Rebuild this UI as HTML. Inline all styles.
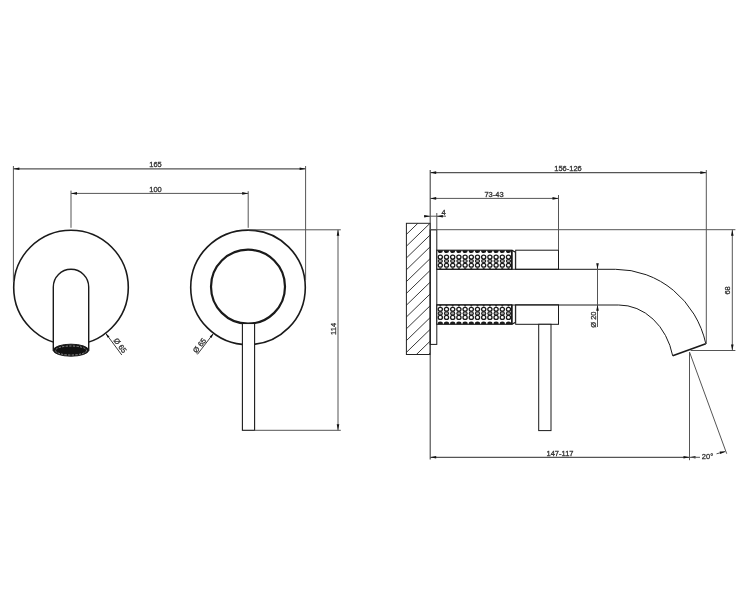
<!DOCTYPE html>
<html><head><meta charset="utf-8"><style>
html,body{margin:0;padding:0;background:#fff;}
svg{display:block;will-change:transform;font-family:"Liberation Sans",sans-serif;}
</style></head><body>
<svg width="750" height="595" viewBox="0 0 750 595">
<circle cx="71" cy="287.5" r="57.3" fill="none" stroke="#1a1a1a" stroke-width="1.6"/>
<path d="M53.3,350 L53.3,287 A17.7,17.7 0 0 1 88.7,287 L88.7,350 Z" fill="#fff" stroke="#1a1a1a" stroke-width="1.4"/>
<ellipse cx="71" cy="350.2" rx="17.7" ry="6" fill="#111" stroke="#1a1a1a" stroke-width="1"/>
<ellipse cx="71" cy="350.5" rx="15.6" ry="4.5" fill="none" stroke="#bbb" stroke-width="0.7" stroke-dasharray="2.2 1.3"/>
<circle cx="248" cy="287.4" r="57.3" fill="none" stroke="#1a1a1a" stroke-width="1.6"/>
<circle cx="248" cy="286.7" r="37" fill="none" stroke="#1a1a1a" stroke-width="2.2"/>
<rect x="242.4" y="323.5" width="12.2" height="106.8" fill="#fff" stroke="#1a1a1a" stroke-width="1.1"/>
<line x1="13.4" y1="166" x2="13.4" y2="282" stroke="#555" stroke-width="1"/>
<line x1="305.6" y1="166" x2="305.6" y2="280" stroke="#555" stroke-width="1"/>
<line x1="13.4" y1="168.8" x2="305.6" y2="168.8" stroke="#555" stroke-width="1.3"/>
<path d="M13.40,168.80 L19.40,167.50 L19.40,170.10Z" fill="#111"/>
<path d="M305.60,168.80 L299.60,170.10 L299.60,167.50Z" fill="#111"/>
<text x="155.5" y="167.2" font-size="7.5" text-anchor="middle" fill="#333" stroke="#333" stroke-width="0.3">165</text>
<line x1="71" y1="190.6" x2="71" y2="227.8" stroke="#555" stroke-width="1"/>
<line x1="248.2" y1="191.2" x2="248.2" y2="227.8" stroke="#555" stroke-width="1"/>
<line x1="71" y1="193.4" x2="248.2" y2="193.4" stroke="#555" stroke-width="1"/>
<path d="M71.00,193.40 L77.00,192.10 L77.00,194.70Z" fill="#111"/>
<path d="M248.20,193.40 L242.20,194.70 L242.20,192.10Z" fill="#111"/>
<text x="155.5" y="192.3" font-size="7.5" text-anchor="middle" fill="#333" stroke="#333" stroke-width="0.3">100</text>
<line x1="248" y1="229.8" x2="340.8" y2="229.8" stroke="#555" stroke-width="1"/>
<line x1="254.6" y1="430.3" x2="340.8" y2="430.3" stroke="#555" stroke-width="1"/>
<line x1="338" y1="229.8" x2="338" y2="430.3" stroke="#555" stroke-width="1"/>
<path d="M338.00,229.80 L339.30,235.80 L336.70,235.80Z" fill="#111"/>
<path d="M338.00,430.30 L336.70,424.30 L339.30,424.30Z" fill="#111"/>
<text x="336.4" y="328.9" font-size="7.5" text-anchor="middle" fill="#333" stroke="#333" stroke-width="0.3" transform="rotate(-90 336.4 328.9)">114</text>
<line x1="105.58757161168526" y1="333.18358446976924" x2="121.8" y2="355" stroke="#222" stroke-width="0.9"/>
<path d="M105.59,333.18 L109.48,336.51 L107.73,337.83Z" fill="#111"/>
<text x="0" y="0" font-size="7.5" fill="#333" stroke="#333" stroke-width="0.3" transform="translate(113.2,340.6) rotate(53.4)">&#216; 65</text>
<line x1="213.62" y1="333.24" x2="197.4" y2="354.4" stroke="#222" stroke-width="0.9"/>
<path d="M213.62,333.24 L211.50,337.90 L209.74,336.58Z" fill="#111"/>
<text x="0" y="0" font-size="7.5" fill="#333" stroke="#333" stroke-width="0.3" transform="translate(196.6,353.6) rotate(-52.5)">&#216; 65</text>
<clipPath id="wc"><rect x="406.4" y="223.3" width="23.8" height="131.2"/></clipPath>
<path d="M400.4,216.62 L446.40,172.00 M400.4,228.42 L446.40,183.80 M400.4,240.22 L446.40,195.60 M400.4,252.02 L446.40,207.40 M400.4,263.82 L446.40,219.20 M400.4,275.62 L446.40,231.00 M400.4,287.42 L446.40,242.80 M400.4,299.22 L446.40,254.60 M400.4,311.02 L446.40,266.40 M400.4,322.82 L446.40,278.20 M400.4,334.62 L446.40,290.00 M400.4,346.42 L446.40,301.80 M400.4,358.22 L446.40,313.60 M400.4,370.02 L446.40,325.40 M400.4,381.82 L446.40,337.20 M400.4,393.62 L446.40,349.00 M400.4,405.42 L446.40,360.80 M400.4,417.22 L446.40,372.60" stroke="#222" stroke-width="0.9" clip-path="url(#wc)"/>
<rect x="406.4" y="223.3" width="23.8" height="131.2" fill="none" stroke="#222" stroke-width="1"/>
<line x1="430.2" y1="170" x2="430.2" y2="459.6" stroke="#444" stroke-width="1.1"/>
<rect x="430.2" y="229.8" width="6.6" height="114.6" fill="none" stroke="#1a1a1a" stroke-width="1"/>
<line x1="436.8" y1="213" x2="436.8" y2="229.8" stroke="#555" stroke-width="1"/>
<line x1="430.2" y1="229.7" x2="735.4" y2="229.7" stroke="#555" stroke-width="1"/>
<clipPath id="kc250"><rect x="436.8" y="250.2" width="75" height="19.100000000000023"/></clipPath>
<rect x="436.8" y="250.2" width="75" height="19.100000000000023" fill="#fff"/>
<g clip-path="url(#kc250)"><ellipse cx="440.30" cy="250.80" rx="2.6" ry="2.3" fill="#1a1a1a"/><ellipse cx="440.30" cy="257.10" rx="2.1" ry="2.0" fill="none" stroke="#1a1a1a" stroke-width="1.3"/><ellipse cx="440.30" cy="261.10" rx="2.1" ry="1.6" fill="#aaa" stroke="#1a1a1a" stroke-width="1.1"/><ellipse cx="440.30" cy="265.20" rx="2.1" ry="1.9" fill="none" stroke="#1a1a1a" stroke-width="1.3"/><ellipse cx="440.30" cy="268.80" rx="1.2" ry="0.8" fill="#333"/><ellipse cx="446.50" cy="250.80" rx="2.6" ry="2.3" fill="#1a1a1a"/><ellipse cx="446.50" cy="257.10" rx="2.1" ry="2.0" fill="none" stroke="#1a1a1a" stroke-width="1.3"/><ellipse cx="446.50" cy="261.10" rx="2.1" ry="1.6" fill="#aaa" stroke="#1a1a1a" stroke-width="1.1"/><ellipse cx="446.50" cy="265.20" rx="2.1" ry="1.9" fill="none" stroke="#1a1a1a" stroke-width="1.3"/><ellipse cx="446.50" cy="268.80" rx="1.2" ry="0.8" fill="#333"/><ellipse cx="452.70" cy="250.80" rx="2.6" ry="2.3" fill="#1a1a1a"/><ellipse cx="452.70" cy="257.10" rx="2.1" ry="2.0" fill="none" stroke="#1a1a1a" stroke-width="1.3"/><ellipse cx="452.70" cy="261.10" rx="2.1" ry="1.6" fill="#aaa" stroke="#1a1a1a" stroke-width="1.1"/><ellipse cx="452.70" cy="265.20" rx="2.1" ry="1.9" fill="none" stroke="#1a1a1a" stroke-width="1.3"/><ellipse cx="452.70" cy="268.80" rx="1.2" ry="0.8" fill="#333"/><ellipse cx="458.90" cy="250.80" rx="2.6" ry="2.3" fill="#1a1a1a"/><ellipse cx="458.90" cy="257.10" rx="2.1" ry="2.0" fill="none" stroke="#1a1a1a" stroke-width="1.3"/><ellipse cx="458.90" cy="261.10" rx="2.1" ry="1.6" fill="#aaa" stroke="#1a1a1a" stroke-width="1.1"/><ellipse cx="458.90" cy="265.20" rx="2.1" ry="1.9" fill="none" stroke="#1a1a1a" stroke-width="1.3"/><ellipse cx="458.90" cy="268.80" rx="1.2" ry="0.8" fill="#333"/><ellipse cx="465.10" cy="250.80" rx="2.6" ry="2.3" fill="#1a1a1a"/><ellipse cx="465.10" cy="257.10" rx="2.1" ry="2.0" fill="none" stroke="#1a1a1a" stroke-width="1.3"/><ellipse cx="465.10" cy="261.10" rx="2.1" ry="1.6" fill="#aaa" stroke="#1a1a1a" stroke-width="1.1"/><ellipse cx="465.10" cy="265.20" rx="2.1" ry="1.9" fill="none" stroke="#1a1a1a" stroke-width="1.3"/><ellipse cx="465.10" cy="268.80" rx="1.2" ry="0.8" fill="#333"/><ellipse cx="471.30" cy="250.80" rx="2.6" ry="2.3" fill="#1a1a1a"/><ellipse cx="471.30" cy="257.10" rx="2.1" ry="2.0" fill="none" stroke="#1a1a1a" stroke-width="1.3"/><ellipse cx="471.30" cy="261.10" rx="2.1" ry="1.6" fill="#aaa" stroke="#1a1a1a" stroke-width="1.1"/><ellipse cx="471.30" cy="265.20" rx="2.1" ry="1.9" fill="none" stroke="#1a1a1a" stroke-width="1.3"/><ellipse cx="471.30" cy="268.80" rx="1.2" ry="0.8" fill="#333"/><ellipse cx="477.50" cy="250.80" rx="2.6" ry="2.3" fill="#1a1a1a"/><ellipse cx="477.50" cy="257.10" rx="2.1" ry="2.0" fill="none" stroke="#1a1a1a" stroke-width="1.3"/><ellipse cx="477.50" cy="261.10" rx="2.1" ry="1.6" fill="#aaa" stroke="#1a1a1a" stroke-width="1.1"/><ellipse cx="477.50" cy="265.20" rx="2.1" ry="1.9" fill="none" stroke="#1a1a1a" stroke-width="1.3"/><ellipse cx="477.50" cy="268.80" rx="1.2" ry="0.8" fill="#333"/><ellipse cx="483.70" cy="250.80" rx="2.6" ry="2.3" fill="#1a1a1a"/><ellipse cx="483.70" cy="257.10" rx="2.1" ry="2.0" fill="none" stroke="#1a1a1a" stroke-width="1.3"/><ellipse cx="483.70" cy="261.10" rx="2.1" ry="1.6" fill="#aaa" stroke="#1a1a1a" stroke-width="1.1"/><ellipse cx="483.70" cy="265.20" rx="2.1" ry="1.9" fill="none" stroke="#1a1a1a" stroke-width="1.3"/><ellipse cx="483.70" cy="268.80" rx="1.2" ry="0.8" fill="#333"/><ellipse cx="489.90" cy="250.80" rx="2.6" ry="2.3" fill="#1a1a1a"/><ellipse cx="489.90" cy="257.10" rx="2.1" ry="2.0" fill="none" stroke="#1a1a1a" stroke-width="1.3"/><ellipse cx="489.90" cy="261.10" rx="2.1" ry="1.6" fill="#aaa" stroke="#1a1a1a" stroke-width="1.1"/><ellipse cx="489.90" cy="265.20" rx="2.1" ry="1.9" fill="none" stroke="#1a1a1a" stroke-width="1.3"/><ellipse cx="489.90" cy="268.80" rx="1.2" ry="0.8" fill="#333"/><ellipse cx="496.10" cy="250.80" rx="2.6" ry="2.3" fill="#1a1a1a"/><ellipse cx="496.10" cy="257.10" rx="2.1" ry="2.0" fill="none" stroke="#1a1a1a" stroke-width="1.3"/><ellipse cx="496.10" cy="261.10" rx="2.1" ry="1.6" fill="#aaa" stroke="#1a1a1a" stroke-width="1.1"/><ellipse cx="496.10" cy="265.20" rx="2.1" ry="1.9" fill="none" stroke="#1a1a1a" stroke-width="1.3"/><ellipse cx="496.10" cy="268.80" rx="1.2" ry="0.8" fill="#333"/><ellipse cx="502.30" cy="250.80" rx="2.6" ry="2.3" fill="#1a1a1a"/><ellipse cx="502.30" cy="257.10" rx="2.1" ry="2.0" fill="none" stroke="#1a1a1a" stroke-width="1.3"/><ellipse cx="502.30" cy="261.10" rx="2.1" ry="1.6" fill="#aaa" stroke="#1a1a1a" stroke-width="1.1"/><ellipse cx="502.30" cy="265.20" rx="2.1" ry="1.9" fill="none" stroke="#1a1a1a" stroke-width="1.3"/><ellipse cx="502.30" cy="268.80" rx="1.2" ry="0.8" fill="#333"/><ellipse cx="508.50" cy="250.80" rx="2.6" ry="2.3" fill="#1a1a1a"/><ellipse cx="508.50" cy="257.10" rx="2.1" ry="2.0" fill="none" stroke="#1a1a1a" stroke-width="1.3"/><ellipse cx="508.50" cy="261.10" rx="2.1" ry="1.6" fill="#aaa" stroke="#1a1a1a" stroke-width="1.1"/><ellipse cx="508.50" cy="265.20" rx="2.1" ry="1.9" fill="none" stroke="#1a1a1a" stroke-width="1.3"/><ellipse cx="508.50" cy="268.80" rx="1.2" ry="0.8" fill="#333"/></g>
<rect x="436.8" y="250.2" width="75" height="19.100000000000023" fill="none" stroke="#1a1a1a" stroke-width="1.1"/>
<line x1="511.8" y1="250.2" x2="511.8" y2="269.3" stroke="#1a1a1a" stroke-width="1.6"/>
<path d="M511.8,250.2 L515.5,252.2 L515.5,269.3" fill="none" stroke="#1a1a1a" stroke-width="1.2"/>
<clipPath id="kc304"><rect x="436.8" y="304.8" width="75" height="19.5"/></clipPath>
<rect x="436.8" y="304.8" width="75" height="19.5" fill="#fff"/>
<g clip-path="url(#kc304)"><ellipse cx="440.30" cy="323.70" rx="2.6" ry="2.3" fill="#1a1a1a"/><ellipse cx="440.30" cy="317.40" rx="2.1" ry="2.0" fill="none" stroke="#1a1a1a" stroke-width="1.3"/><ellipse cx="440.30" cy="313.40" rx="2.1" ry="1.6" fill="#aaa" stroke="#1a1a1a" stroke-width="1.1"/><ellipse cx="440.30" cy="309.30" rx="2.1" ry="1.9" fill="none" stroke="#1a1a1a" stroke-width="1.3"/><ellipse cx="440.30" cy="305.70" rx="1.2" ry="0.8" fill="#333"/><ellipse cx="446.50" cy="323.70" rx="2.6" ry="2.3" fill="#1a1a1a"/><ellipse cx="446.50" cy="317.40" rx="2.1" ry="2.0" fill="none" stroke="#1a1a1a" stroke-width="1.3"/><ellipse cx="446.50" cy="313.40" rx="2.1" ry="1.6" fill="#aaa" stroke="#1a1a1a" stroke-width="1.1"/><ellipse cx="446.50" cy="309.30" rx="2.1" ry="1.9" fill="none" stroke="#1a1a1a" stroke-width="1.3"/><ellipse cx="446.50" cy="305.70" rx="1.2" ry="0.8" fill="#333"/><ellipse cx="452.70" cy="323.70" rx="2.6" ry="2.3" fill="#1a1a1a"/><ellipse cx="452.70" cy="317.40" rx="2.1" ry="2.0" fill="none" stroke="#1a1a1a" stroke-width="1.3"/><ellipse cx="452.70" cy="313.40" rx="2.1" ry="1.6" fill="#aaa" stroke="#1a1a1a" stroke-width="1.1"/><ellipse cx="452.70" cy="309.30" rx="2.1" ry="1.9" fill="none" stroke="#1a1a1a" stroke-width="1.3"/><ellipse cx="452.70" cy="305.70" rx="1.2" ry="0.8" fill="#333"/><ellipse cx="458.90" cy="323.70" rx="2.6" ry="2.3" fill="#1a1a1a"/><ellipse cx="458.90" cy="317.40" rx="2.1" ry="2.0" fill="none" stroke="#1a1a1a" stroke-width="1.3"/><ellipse cx="458.90" cy="313.40" rx="2.1" ry="1.6" fill="#aaa" stroke="#1a1a1a" stroke-width="1.1"/><ellipse cx="458.90" cy="309.30" rx="2.1" ry="1.9" fill="none" stroke="#1a1a1a" stroke-width="1.3"/><ellipse cx="458.90" cy="305.70" rx="1.2" ry="0.8" fill="#333"/><ellipse cx="465.10" cy="323.70" rx="2.6" ry="2.3" fill="#1a1a1a"/><ellipse cx="465.10" cy="317.40" rx="2.1" ry="2.0" fill="none" stroke="#1a1a1a" stroke-width="1.3"/><ellipse cx="465.10" cy="313.40" rx="2.1" ry="1.6" fill="#aaa" stroke="#1a1a1a" stroke-width="1.1"/><ellipse cx="465.10" cy="309.30" rx="2.1" ry="1.9" fill="none" stroke="#1a1a1a" stroke-width="1.3"/><ellipse cx="465.10" cy="305.70" rx="1.2" ry="0.8" fill="#333"/><ellipse cx="471.30" cy="323.70" rx="2.6" ry="2.3" fill="#1a1a1a"/><ellipse cx="471.30" cy="317.40" rx="2.1" ry="2.0" fill="none" stroke="#1a1a1a" stroke-width="1.3"/><ellipse cx="471.30" cy="313.40" rx="2.1" ry="1.6" fill="#aaa" stroke="#1a1a1a" stroke-width="1.1"/><ellipse cx="471.30" cy="309.30" rx="2.1" ry="1.9" fill="none" stroke="#1a1a1a" stroke-width="1.3"/><ellipse cx="471.30" cy="305.70" rx="1.2" ry="0.8" fill="#333"/><ellipse cx="477.50" cy="323.70" rx="2.6" ry="2.3" fill="#1a1a1a"/><ellipse cx="477.50" cy="317.40" rx="2.1" ry="2.0" fill="none" stroke="#1a1a1a" stroke-width="1.3"/><ellipse cx="477.50" cy="313.40" rx="2.1" ry="1.6" fill="#aaa" stroke="#1a1a1a" stroke-width="1.1"/><ellipse cx="477.50" cy="309.30" rx="2.1" ry="1.9" fill="none" stroke="#1a1a1a" stroke-width="1.3"/><ellipse cx="477.50" cy="305.70" rx="1.2" ry="0.8" fill="#333"/><ellipse cx="483.70" cy="323.70" rx="2.6" ry="2.3" fill="#1a1a1a"/><ellipse cx="483.70" cy="317.40" rx="2.1" ry="2.0" fill="none" stroke="#1a1a1a" stroke-width="1.3"/><ellipse cx="483.70" cy="313.40" rx="2.1" ry="1.6" fill="#aaa" stroke="#1a1a1a" stroke-width="1.1"/><ellipse cx="483.70" cy="309.30" rx="2.1" ry="1.9" fill="none" stroke="#1a1a1a" stroke-width="1.3"/><ellipse cx="483.70" cy="305.70" rx="1.2" ry="0.8" fill="#333"/><ellipse cx="489.90" cy="323.70" rx="2.6" ry="2.3" fill="#1a1a1a"/><ellipse cx="489.90" cy="317.40" rx="2.1" ry="2.0" fill="none" stroke="#1a1a1a" stroke-width="1.3"/><ellipse cx="489.90" cy="313.40" rx="2.1" ry="1.6" fill="#aaa" stroke="#1a1a1a" stroke-width="1.1"/><ellipse cx="489.90" cy="309.30" rx="2.1" ry="1.9" fill="none" stroke="#1a1a1a" stroke-width="1.3"/><ellipse cx="489.90" cy="305.70" rx="1.2" ry="0.8" fill="#333"/><ellipse cx="496.10" cy="323.70" rx="2.6" ry="2.3" fill="#1a1a1a"/><ellipse cx="496.10" cy="317.40" rx="2.1" ry="2.0" fill="none" stroke="#1a1a1a" stroke-width="1.3"/><ellipse cx="496.10" cy="313.40" rx="2.1" ry="1.6" fill="#aaa" stroke="#1a1a1a" stroke-width="1.1"/><ellipse cx="496.10" cy="309.30" rx="2.1" ry="1.9" fill="none" stroke="#1a1a1a" stroke-width="1.3"/><ellipse cx="496.10" cy="305.70" rx="1.2" ry="0.8" fill="#333"/><ellipse cx="502.30" cy="323.70" rx="2.6" ry="2.3" fill="#1a1a1a"/><ellipse cx="502.30" cy="317.40" rx="2.1" ry="2.0" fill="none" stroke="#1a1a1a" stroke-width="1.3"/><ellipse cx="502.30" cy="313.40" rx="2.1" ry="1.6" fill="#aaa" stroke="#1a1a1a" stroke-width="1.1"/><ellipse cx="502.30" cy="309.30" rx="2.1" ry="1.9" fill="none" stroke="#1a1a1a" stroke-width="1.3"/><ellipse cx="502.30" cy="305.70" rx="1.2" ry="0.8" fill="#333"/><ellipse cx="508.50" cy="323.70" rx="2.6" ry="2.3" fill="#1a1a1a"/><ellipse cx="508.50" cy="317.40" rx="2.1" ry="2.0" fill="none" stroke="#1a1a1a" stroke-width="1.3"/><ellipse cx="508.50" cy="313.40" rx="2.1" ry="1.6" fill="#aaa" stroke="#1a1a1a" stroke-width="1.1"/><ellipse cx="508.50" cy="309.30" rx="2.1" ry="1.9" fill="none" stroke="#1a1a1a" stroke-width="1.3"/><ellipse cx="508.50" cy="305.70" rx="1.2" ry="0.8" fill="#333"/></g>
<rect x="436.8" y="304.8" width="75" height="19.5" fill="none" stroke="#1a1a1a" stroke-width="1.1"/>
<line x1="511.8" y1="304.8" x2="511.8" y2="324.3" stroke="#1a1a1a" stroke-width="1.6"/>
<path d="M511.8,324.3 L515.5,322.3 L515.5,304.8" fill="none" stroke="#1a1a1a" stroke-width="1.2"/>
<rect x="515.7" y="250.2" width="42.8" height="19.1" fill="#fff" stroke="#1a1a1a" stroke-width="1"/>
<rect x="515.7" y="304.8" width="42.8" height="19.5" fill="#fff" stroke="#1a1a1a" stroke-width="1"/>
<line x1="558.5" y1="195" x2="558.5" y2="250.2" stroke="#555" stroke-width="1"/>
<path d="M436.8,269.3 L615.6,269.3 A92.7,95.6 0 0 1 705.8,343.7" fill="none" stroke="#1a1a1a" stroke-width="1"/>
<path d="M436.8,305.0 L618.7,305.0 A55.3,66.0 0 0 1 672.7,355.8" fill="none" stroke="#1a1a1a" stroke-width="1"/>
<line x1="672.7" y1="355.8" x2="705.8" y2="343.7" stroke="#1a1a1a" stroke-width="1.6"/>
<rect x="538.7" y="324.3" width="12.3" height="106.3" fill="#fff" stroke="#1a1a1a" stroke-width="1"/>
<line x1="430.2" y1="172.6" x2="706.3" y2="172.6" stroke="#555" stroke-width="1.2"/>
<path d="M430.20,172.60 L436.20,171.30 L436.20,173.90Z" fill="#111"/>
<path d="M706.30,172.60 L700.30,173.90 L700.30,171.30Z" fill="#111"/>
<line x1="706.3" y1="170" x2="706.3" y2="344" stroke="#555" stroke-width="1"/>
<text x="568" y="170.8" font-size="7.5" text-anchor="middle" fill="#333" stroke="#333" stroke-width="0.3">156-126</text>
<line x1="430.2" y1="198.4" x2="558.5" y2="198.4" stroke="#555" stroke-width="1"/>
<path d="M430.20,198.40 L436.20,197.10 L436.20,199.70Z" fill="#111"/>
<path d="M558.50,198.40 L552.50,199.70 L552.50,197.10Z" fill="#111"/>
<text x="494" y="196.8" font-size="7.5" text-anchor="middle" fill="#333" stroke="#333" stroke-width="0.3">73-43</text>
<line x1="424" y1="216.2" x2="446" y2="216.2" stroke="#555" stroke-width="1"/>
<path d="M430.20,216.20 L424.20,217.50 L424.20,214.90Z" fill="#111"/>
<path d="M436.80,216.20 L442.80,214.90 L442.80,217.50Z" fill="#111"/>
<text x="443.6" y="214.6" font-size="7.5" text-anchor="middle" fill="#333" stroke="#333" stroke-width="0.3">4</text>
<line x1="597.5" y1="264" x2="597.5" y2="327" stroke="#555" stroke-width="1"/>
<path d="M597.50,269.30 L596.20,263.30 L598.80,263.30Z" fill="#111"/>
<path d="M597.50,304.80 L598.80,310.80 L596.20,310.80Z" fill="#111"/>
<text x="596.3" y="319.6" font-size="7.5" text-anchor="middle" fill="#333" stroke="#333" stroke-width="0.3" transform="rotate(-90 596.3 319.6)">&#216; 20</text>
<line x1="690.6" y1="350.5" x2="735.4" y2="350.5" stroke="#555" stroke-width="1"/>
<line x1="732.3" y1="229.7" x2="732.3" y2="350.5" stroke="#555" stroke-width="1"/>
<path d="M732.30,229.70 L733.60,235.70 L731.00,235.70Z" fill="#111"/>
<path d="M732.30,350.50 L731.00,344.50 L733.60,344.50Z" fill="#111"/>
<text x="730.2" y="290.4" font-size="7.5" text-anchor="middle" fill="#333" stroke="#333" stroke-width="0.3" transform="rotate(-90 730.2 290.4)">68</text>
<line x1="430.2" y1="457.3" x2="689.5" y2="457.3" stroke="#555" stroke-width="1.2"/>
<path d="M430.20,457.30 L436.20,456.00 L436.20,458.60Z" fill="#111"/>
<path d="M689.50,457.30 L683.50,458.60 L683.50,456.00Z" fill="#111"/>
<line x1="689.5" y1="352" x2="689.5" y2="460.2" stroke="#555" stroke-width="1"/>
<text x="560" y="455.7" font-size="7.5" text-anchor="middle" fill="#333" stroke="#333" stroke-width="0.3">147-117</text>
<line x1="689.5" y1="352" x2="726.7" y2="453.7" stroke="#555" stroke-width="1"/>
<path d="M689.50,457.30 L695.50,456.00 L695.50,458.60Z" fill="#111"/>
<line x1="689.5" y1="457.3" x2="700" y2="457.3" stroke="#555" stroke-width="1"/>
<path d="M716.5,453.8 L725,451.6" fill="none" stroke="#555" stroke-width="1"/>
<path d="M725.80,451.40 L720.26,454.06 L719.66,451.53Z" fill="#111"/>
<text x="707.5" y="459" font-size="7.5" text-anchor="middle" fill="#333" stroke="#333" stroke-width="0.3">20°</text>
</svg>
</body></html>
